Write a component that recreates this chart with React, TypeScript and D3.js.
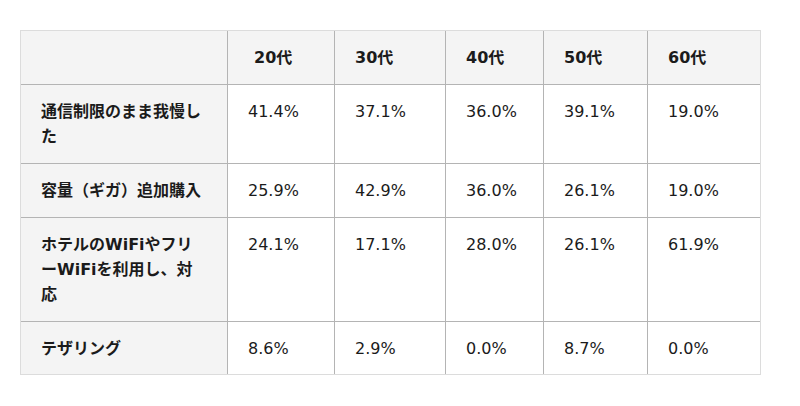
import * as d3 from "d3";

const AGES = ["20代", "30代", "40代", "50代", "60代"];

const ROW_LABELS = [
  ["通信制限のまま我慢し", "た"],
  ["容量（ギガ）追加購入"],
  ["ホテルのWiFiやフリ", "ーWiFiを利用し、対", "応"],
  ["テザリング"],
];

const VALUES_20 = [41.4, 25.9, 24.1, 8.6];
const VALUES_30 = [37.1, 42.9, 17.1, 2.9];
const VALUES_40 = [36.0, 36.0, 28.0, 0.0];
const VALUES_50 = [39.1, 26.1, 26.1, 8.7];
const VALUES_60 = [19.0, 19.0, 61.9, 0.0];

const SERIES = [VALUES_20, VALUES_30, VALUES_40, VALUES_50, VALUES_60];

// layout
const LEFT = 20;
const TOP = 30;
const COL_W = [207, 107, 111, 98, 104, 114];
const HEAD_H = 54;
const LINE_H = 25;
const PAD_V = 29;
const PAD_L = 21;
const FONT = "'DejaVu Sans', 'Noto Sans CJK JP', sans-serif";
const TEXT = "#1b1b1b";

export default function App() {
  const colX = Array.from(d3.cumsum([LEFT, ...COL_W]));
  const rowH = [HEAD_H, ...ROW_LABELS.map(l => PAD_V + LINE_H * l.length)];
  const rowY = Array.from(d3.cumsum([TOP, ...rowH]));
  const right = colX[colX.length - 1];
  const bottom = rowY[rowY.length - 1];
  const fmt = d3.format(".1f");

  return (
    <svg width={800} height={406} style={{ position: "absolute", left: 0, top: 0 }} fontFamily={FONT}>
      <rect x={0} y={0} width={800} height={406} fill="white" />
      {/* grey header row + label column */}
      <rect x={LEFT} y={TOP} width={right - LEFT} height={HEAD_H} fill="#f4f4f4" />
      <rect x={LEFT} y={TOP} width={COL_W[0]} height={bottom - TOP} fill="#f4f4f4" />

      {/* inner grid */}
      {colX.slice(1, -1).map((x, i) => (
        <line key={"v" + i} x1={x + 0.5} x2={x + 0.5} y1={TOP} y2={bottom} stroke="#b4b4b4" />
      ))}
      {rowY.slice(1, -1).map((y, i) => (
        <line key={"h" + i} x1={LEFT} x2={right} y1={y + 0.5} y2={y + 0.5} stroke="#b4b4b4" />
      ))}
      <rect x={LEFT + 0.5} y={TOP + 0.5} width={right - LEFT - 1} height={bottom - TOP - 1} fill="none" stroke="#dcdcdc" />

      {/* header */}
      {AGES.map((a, i) => (
        <text key={a} x={colX[i + 1] + PAD_L + (i === 0 ? 6 : 0)} y={TOP + HEAD_H / 2} dominantBaseline="central"
          fontSize={16} fontWeight="bold" fill={TEXT}>{a}</text>
      ))}

      {/* rows */}
      {ROW_LABELS.map((lines, r) => {
        const y0 = rowY[r + 1] + PAD_V / 2 + LINE_H / 2;
        return (
          <g key={r}>
            {lines.map((ln, k) => (
              <text key={k} x={LEFT + PAD_L} y={y0 + k * LINE_H} dominantBaseline="central"
                fontSize={16} fontWeight="bold" fill={TEXT}>{ln}</text>
            ))}
            {SERIES.map((s, c) => (
              <text key={"c" + c} x={colX[c + 1] + PAD_L} y={y0} dominantBaseline="central"
                fontSize={16} fill={TEXT}>{fmt(s[r])}%</text>
            ))}
          </g>
        );
      })}
    </svg>
  );
}
